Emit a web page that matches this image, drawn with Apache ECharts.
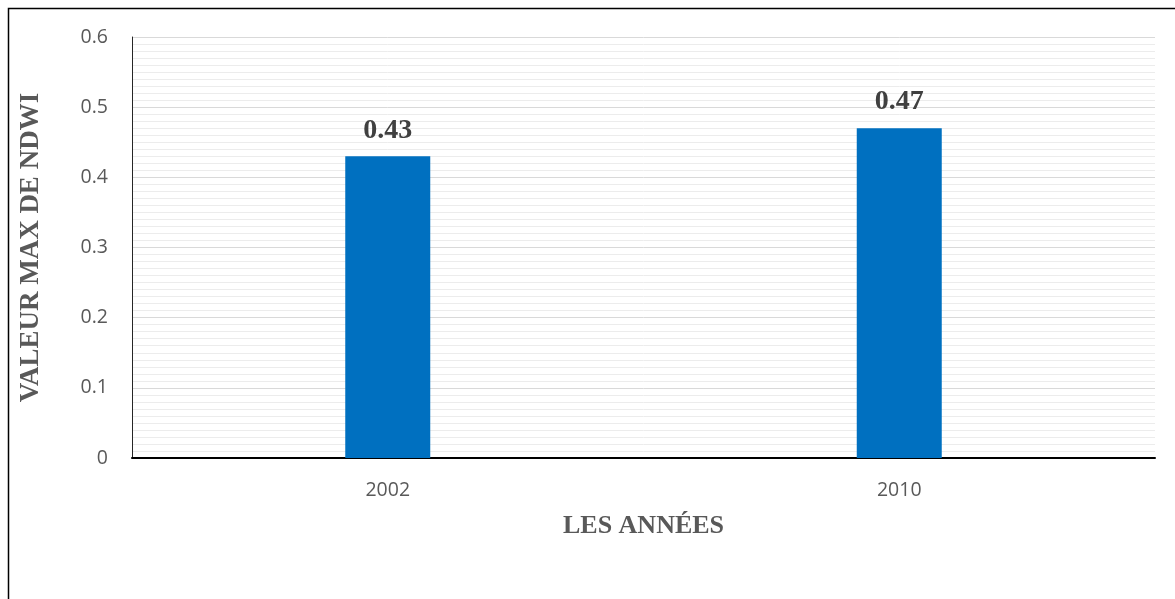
<!DOCTYPE html>
<html>
<head>
<meta charset="utf-8">
<script src="https://cdn.jsdelivr.net/npm/echarts@6/dist/echarts.min.js"></script>
<style>
  html, body { margin: 0; padding: 0; background: #ffffff; }
  #chart { width: 1175px; height: 599px; }
</style>
</head>
<body>
<div id="chart"></div>
<script>
// Années observées et valeur maximale de l'indice NDWI
const years = ['2002', '2010'];
const ndwiMax = [0.43, 0.47];

const chart = echarts.init(document.getElementById('chart'), null, { renderer: 'canvas' });

chart.setOption({
  backgroundColor: '#ffffff',
  animation: false,
  grid: { left: 132, right: 20, top: 37, bottom: 141 },
  graphic: [
    {
      // cadre extérieur du graphique
      type: 'rect',
      left: 6, top: 6,
      shape: { width: 1200, height: 620 },
      style: { fill: 'none', stroke: '#000000', lineWidth: 1.5 },
      silent: true
    }
  ],
  xAxis: {
    type: 'category',
    data: years,
    name: 'LES ANNÉES',
    nameLocation: 'middle',
    nameGap: 55,
    nameTextStyle: {
      fontFamily: 'Liberation Serif',
      fontWeight: 'bold',
      fontSize: 26,
      color: '#595959'
    },
    axisLine: { show: true, lineStyle: { color: '#000000', width: 2 } },
    axisTick: { show: false },
    axisLabel: {
      margin: 22,
      fontFamily: 'Open Sans',
      fontSize: 19.5,
      color: '#595959'
    },
    splitLine: { show: false }
  },
  yAxis: {
    type: 'value',
    min: 0,
    max: 0.6,
    interval: 0.1,
    name: 'VALEUR MAX DE NDWI',
    nameLocation: 'middle',
    nameGap: 87,
    nameTextStyle: {
      fontFamily: 'Liberation Serif',
      fontWeight: 'bold',
      fontSize: 27,
      color: '#595959'
    },
    axisLine: { show: true, lineStyle: { color: '#262626', width: 1 } },
    axisTick: { show: false },
    axisLabel: {
      margin: 24,
      fontFamily: 'Open Sans',
      fontSize: 19.5,
      color: '#595959'
    },
    splitLine: { show: true, lineStyle: { color: '#d9d9d9', width: 1 } },
    minorTick: { show: false, splitNumber: 10 },
    minorSplitLine: { show: true, lineStyle: { color: '#ececec', width: 1 } }
  },
  series: [
    {
      type: 'bar',
      data: ndwiMax,
      barWidth: 85,
      itemStyle: { color: '#0070c0' },
      label: {
        show: true,
        position: 'top',
        distance: 12,
        fontFamily: 'Liberation Serif',
        fontWeight: 'bold',
        fontSize: 28,
        color: '#404040',
        formatter: p => p.value.toFixed(2)
      }
    }
  ]
});
</script>
</body>
</html>
